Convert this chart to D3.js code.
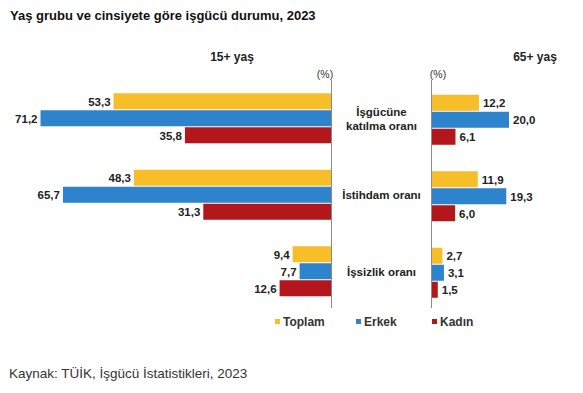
<html>
<head>
<meta charset="utf-8">
<title>İşgücü durumu</title>
<script src="https://d3js.org/d3.v7.min.js"></script>
<style>
  body { margin: 0; background: #fff; }
  text { font-family: "Liberation Sans", Arial, sans-serif; }
</style>
</head>
<body>
<svg id="chart" width="583" height="393"></svg>
<script>
// data
var categories = ["İşgücüne katılma oranı", "İstihdam oranı", "İşsizlik oranı"];
var series = ["Toplam", "Erkek", "Kadın"];
var toplam15 = [53.3, 48.3, 9.4];
var erkek15 = [71.2, 65.7, 7.7];
var kadin15 = [35.8, 31.3, 12.6];
var toplam65 = [12.2, 11.9, 2.7];
var erkek65 = [20.0, 19.3, 3.1];
var kadin65 = [6.1, 6.0, 1.5];

var colors = { "Toplam": "#f8be2a", "Erkek": "#2e84cc", "Kadın": "#b3171c" };

function rows(a, b, c) {
  var out = [];
  categories.forEach(function (cat, i) {
    out.push({ cat: cat, s: "Toplam", v: a[i] });
    out.push({ cat: cat, s: "Erkek", v: b[i] });
    out.push({ cat: cat, s: "Kadın", v: c[i] });
  });
  return out;
}
var left = rows(toplam15, erkek15, kadin15);
var right = rows(toplam65, erkek65, kadin65);

var svg = d3.select("#chart");
var fmt = function (v) { return v.toFixed(1).replace(".", ","); };

var y = d3.scaleBand().domain(categories).range([80.5, 310])
  .paddingInner(0.333).paddingOuter(0.1667);
var ys = d3.scaleBand().domain(series).range([0, y.bandwidth()]);

var xl = d3.scaleLinear().domain([0, 80]).range([331, 4.6]);
var xr = d3.scaleLinear().domain([0, 25]).range([432, 528.25]);

// title
svg.append("text").attr("x", 10).attr("y", 20)
  .style("font-size", "13px").style("font-weight", "bold").attr("fill", "#111")
  .text("Yaş grubu ve cinsiyete göre işgücü durumu, 2023");

svg.append("text").attr("x", 232).attr("y", 61).attr("text-anchor", "middle")
  .style("font-size", "12px").style("font-weight", "bold").attr("fill", "#222").text("15+ yaş");
svg.append("text").attr("x", 535).attr("y", 61).attr("text-anchor", "middle")
  .style("font-size", "12px").style("font-weight", "bold").attr("fill", "#222").text("65+ yaş");
svg.append("text").attr("x", 325).attr("y", 78).attr("text-anchor", "middle")
  .style("font-size", "10.5px").attr("fill", "#333").text("(%)");
svg.append("text").attr("x", 438).attr("y", 78).attr("text-anchor", "middle")
  .style("font-size", "10.5px").attr("fill", "#333").text("(%)");

// left panel
var gl = svg.append("g");
gl.selectAll("rect").data(left).enter().append("rect")
  .attr("x", function (d) { return xl(d.v); })
  .attr("y", function (d) { return y(d.cat) + ys(d.s); })
  .attr("width", function (d) { return xl(0) - xl(d.v); })
  .attr("height", ys.bandwidth() - 1)
  .attr("fill", function (d) { return colors[d.s]; });
gl.selectAll("text").data(left).enter().append("text")
  .attr("x", function (d) { return xl(d.v) - 3; })
  .attr("y", function (d) { return y(d.cat) + ys(d.s) + ys.bandwidth() / 2 + 4; })
  .attr("text-anchor", "end")
  .style("font-size", "11.5px").style("font-weight", "bold").attr("fill", "#222")
  .text(function (d) { return fmt(d.v); });

// right panel
var gr = svg.append("g").attr("transform", "translate(0,1.5)");
gr.selectAll("rect").data(right).enter().append("rect")
  .attr("x", xr(0))
  .attr("y", function (d) { return y(d.cat) + ys(d.s); })
  .attr("width", function (d) { return xr(d.v) - xr(0); })
  .attr("height", ys.bandwidth() - 1)
  .attr("fill", function (d) { return colors[d.s]; });
gr.selectAll("text").data(right).enter().append("text")
  .attr("x", function (d) { return xr(d.v) + 4; })
  .attr("y", function (d) { return y(d.cat) + ys(d.s) + ys.bandwidth() / 2 + 4; })
  .style("font-size", "11.5px").style("font-weight", "bold").attr("fill", "#222")
  .text(function (d) { return fmt(d.v); });

// axis lines
[331.5, 431.5].forEach(function (x) {
  svg.append("line").attr("x1", x).attr("x2", x).attr("y1", 80).attr("y2", 308)
    .attr("stroke", "#8a8a8a").attr("stroke-width", 1);
});

// category labels
var lines = {
  "İşgücüne katılma oranı": ["İşgücüne", "katılma oranı"],
  "İstihdam oranı": ["İstihdam oranı"],
  "İşsizlik oranı": ["İşsizlik oranı"]
};
categories.forEach(function (cat) {
  var ls = lines[cat];
  var cy = y(cat) + y.bandwidth() / 2;
  ls.forEach(function (t, i) {
    svg.append("text").attr("x", 381.5)
      .attr("y", cy + 4 + (i - (ls.length - 1) / 2) * 13.5)
      .attr("text-anchor", "middle")
      .style("font-size", "11.5px").style("font-weight", "bold").attr("fill", "#222")
      .text(t);
  });
});

// legend
var legX = [275, 356, 432];
series.forEach(function (s, i) {
  svg.append("rect").attr("x", legX[i]).attr("y", 319).attr("width", 5).attr("height", 5)
    .attr("fill", colors[s]);
  svg.append("text").attr("x", legX[i] + 8).attr("y", 326)
    .style("font-size", "12px").style("font-weight", "bold").attr("fill", "#333").text(s);
});

// source
svg.append("text").attr("x", 9).attr("y", 378)
  .style("font-size", "13.5px").attr("fill", "#333")
  .text("Kaynak: TÜİK, İşgücü İstatistikleri, 2023");
</script>
</body>
</html>
